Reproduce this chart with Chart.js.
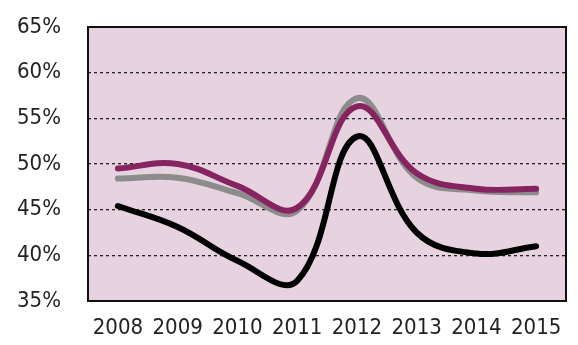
<!DOCTYPE html>
<html><head><meta charset="utf-8">
<script src="https://cdn.jsdelivr.net/npm/chart.js@4/dist/chart.umd.min.js"></script>
<style>html,body{margin:0;padding:0;background:#fff;}#wrap{width:578px;height:345px;}</style>
</head><body><div id="wrap"><canvas id="c" width="578" height="345"></canvas></div>
<script>
const categories = ["2008","2009","2010","2011","2012","2013","2014","2015"];
const seriesPurple = [49.5, 50.0, 47.6, 45.2, 56.3, 49.0, 47.3, 47.3];
const seriesGray   = [48.4, 48.5, 46.8, 44.9, 57.2, 48.5, 47.1, 46.9];
const seriesBlack  = [45.4, 43.1, 39.4, 37.2, 53.0, 42.5, 40.2, 41.0];
const yMin = 35, yMax = 65, yStep = 5;

const FONT = "'Liberation Sans Narrow','DejaVu Sans Condensed','Roboto Condensed',sans-serif";

const bgPlugin = {
  id: 'bgbox',
  beforeDraw(chart) {
    const {ctx, chartArea: a} = chart;
    ctx.save();
    ctx.fillStyle = '#E7D3DF';
    ctx.fillRect(a.left, a.top, a.right - a.left, a.bottom - a.top);
    ctx.restore();
  },
  afterDraw(chart) {
    const {ctx, chartArea: a} = chart;
    ctx.save();
    ctx.strokeStyle = '#111';
    ctx.lineWidth = 2;
    ctx.strokeRect(a.left, a.top, a.right - a.left, a.bottom - a.top);
    ctx.restore();
  }
};

new Chart(document.getElementById('c'), {
  type: 'line',
  data: {
    labels: categories,
    datasets: [
      {data: seriesPurple, borderColor: '#862462'},
      {data: seriesGray, borderColor: '#8C8C8C'},
      {data: seriesBlack, borderColor: '#000000'}
    ].map(d => Object.assign(d, {borderWidth: 6, pointRadius: 0, tension: 0.4, fill: false, borderCapStyle: 'round'}))
  },
  options: {
    responsive: false,
    animation: false,
    events: [],
    layout: {padding: {top: 27, right: 12, left: 0, bottom: 0}},
    plugins: {legend: {display: false}, tooltip: {enabled: false}},
    scales: {
      x: {
        offset: true,
        grid: {display: false, drawTicks: false},
        border: {display: false},
        ticks: {color: '#222', font: {family: FONT, size: 22}, padding: 14, maxRotation: 0},
        afterFit(s) { s.height = 44; s.paddingLeft = 0; s.paddingRight = 0; }
      },
      y: {
        min: yMin, max: yMax,
        grid: {
          drawTicks: false,
          color: c => (c.tick && (c.tick.value === yMin || c.tick.value === yMax)) ? 'rgba(0,0,0,0)' : '#222',
          lineWidth: 1.3
        },
        border: {display: false, dash: [3, 3]},
        ticks: {stepSize: yStep, color: '#222', font: {family: FONT, size: 22}, padding: 27, callback: v => v + '%'},
        afterFit(s) { s.width = 88; s.paddingTop = 0; s.paddingBottom = 0; }
      }
    }
  },
  plugins: [bgPlugin]
});
</script></body></html>
